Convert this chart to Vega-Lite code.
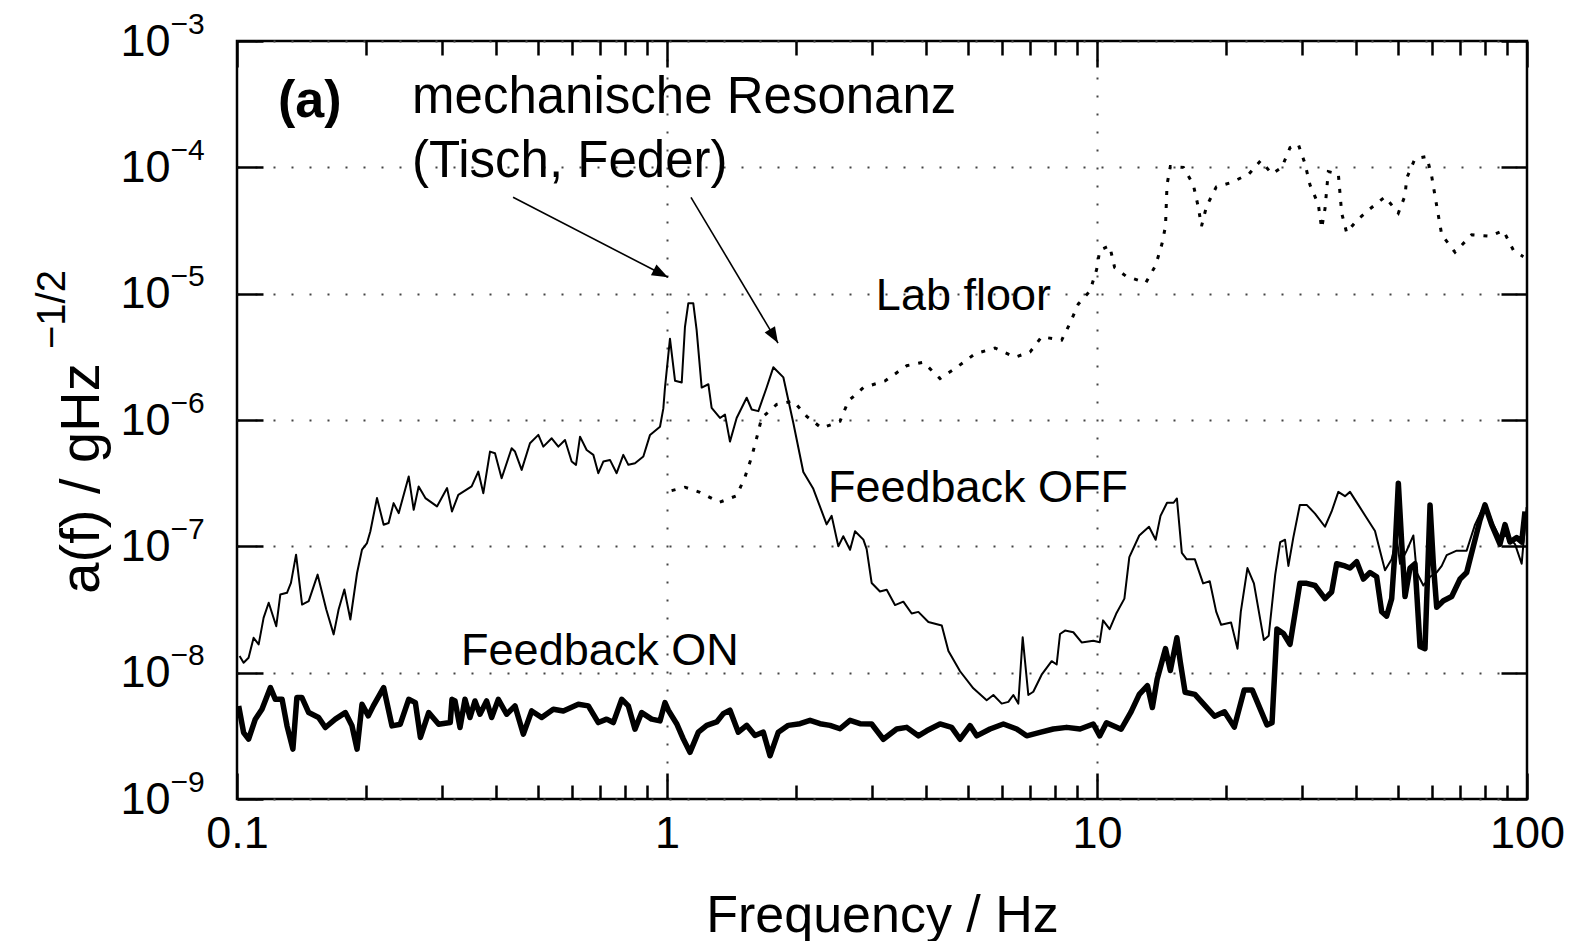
{
  "$schema": "https://vega.github.io/schema/vega-lite/v6.json",
  "width": 1290,
  "height": 758,
  "autosize": {"type": "none"},
  "padding": {"left": 237, "top": 41, "right": 56, "bottom": 142},
  "background": "white",
  "config": {
    "view": {"stroke": "#000", "strokeWidth": 2.5},
    "font": "Liberation Sans",
    "axis": {"domain": false}
  },
  "datasets": {
    "off": [
      {"f":0.1014,"a":1.355e-8},{"f":0.1036,"a":1.199e-8},{"f":0.1064,"a":1.312e-8},{"f":0.1093,"a":1.888e-8},{"f":0.1123,"a":1.675e-8},{"f":0.1153,"a":2.716e-8},{"f":0.1185,"a":3.573e-8},{"f":0.1234,"a":2.333e-8},{"f":0.1261,"a":4.150e-8},{"f":0.1307,"a":4.285e-8},{"f":0.1335,"a":5.140e-8},{"f":0.1372,"a":8.590e-8},{"f":0.1417,"a":3.459e-8},{"f":0.1468,"a":3.681e-8},{"f":0.1540,"a":5.970e-8},{"f":0.1613,"a":3.162e-8},{"f":0.1678,"a":2.009e-8},{"f":0.1723,"a":3.162e-8},{"f":0.1777,"a":4.550e-8},{"f":0.1835,"a":2.636e-8},{"f":0.1902,"a":6.152e-8},{"f":0.1953,"a":9.419e-8},{"f":0.2006,"a":1.062e-7},{"f":0.2042,"a":1.312e-7},{"f":0.2116,"a":2.410e-7},{"f":0.2193,"a":1.483e-7},{"f":0.2252,"a":1.528e-7},{"f":0.2313,"a":2.198e-7},{"f":0.2377,"a":1.832e-7},{"f":0.2508,"a":3.573e-7},{"f":0.2576,"a":1.945e-7},{"f":0.2645,"a":2.979e-7},{"f":0.2742,"a":2.410e-7},{"f":0.2918,"a":2.070e-7},{"f":0.3080,"a":2.891e-7},{"f":0.3162,"a":1.888e-7},{"f":0.3271,"a":2.559e-7},{"f":0.3513,"a":2.979e-7},{"f":0.3640,"a":3.908e-7},{"f":0.3740,"a":2.636e-7},{"f":0.3876,"a":5.623e-7},{"f":0.3981,"a":5.458e-7},{"f":0.4125,"a":3.459e-7},{"f":0.4352,"a":5.970e-7},{"f":0.4431,"a":5.623e-7},{"f":0.4592,"a":4.027e-7},{"f":0.4801,"a":6.546e-7},{"f":0.5021,"a":7.621e-7},{"f":0.5157,"a":6.152e-7},{"f":0.5393,"a":7.161e-7},{"f":0.5589,"a":6.152e-7},{"f":0.5792,"a":6.950e-7},{"f":0.6002,"a":4.688e-7},{"f":0.6143,"a":4.416e-7},{"f":0.6277,"a":7.379e-7},{"f":0.6504,"a":5.794e-7},{"f":0.6741,"a":5.297e-7},{"f":0.6923,"a":3.793e-7},{"f":0.7110,"a":4.688e-7},{"f":0.7368,"a":4.831e-7},{"f":0.7636,"a":3.793e-7},{"f":0.7914,"a":5.297e-7},{"f":0.8131,"a":4.416e-7},{"f":0.8425,"a":4.550e-7},{"f":0.8810,"a":5.140e-7},{"f":0.9131,"a":7.621e-7},{"f":0.9632,"a":8.851e-7},{"f":0.9806,"a":1.236e-6},{"f":0.9892,"a":1.807e-6},{"f":1.016,"a":4.406e-6},{"f":1.044,"a":2.042e-6},{"f":1.082,"a":1.982e-6},{"f":1.101,"a":5.470e-6},{"f":1.121,"a":8.414e-6},{"f":1.151,"a":8.414e-6},{"f":1.172,"a":5.140e-6},{"f":1.204,"a":1.807e-6},{"f":1.248,"a":1.919e-6},{"f":1.270,"a":1.247e-6},{"f":1.328,"a":1.038e-6},{"f":1.364,"a":1.104e-6},{"f":1.401,"a":6.745e-7},{"f":1.452,"a":1.038e-6},{"f":1.532,"a":1.500e-6},{"f":1.574,"a":1.211e-6},{"f":1.631,"a":1.175e-6},{"f":1.705,"a":1.807e-6},{"f":1.767,"a":2.612e-6},{"f":1.865,"a":2.173e-6},{"f":1.967,"a":9.462e-7},{"f":2.075,"a":3.873e-7},{"f":2.189,"a":2.851e-7},{"f":2.351,"a":1.493e-7},{"f":2.415,"a":1.742e-7},{"f":2.503,"a":1.0e-7},{"f":2.570,"a":1.202e-7},{"f":2.665,"a":9.397e-8},{"f":2.737,"a":1.318e-7},{"f":2.862,"a":1.130e-7},{"f":2.913,"a":9.506e-8},{"f":2.992,"a":5.129e-8},{"f":3.128,"a":4.385e-8},{"f":3.243,"a":4.529e-8},{"f":3.390,"a":3.428e-8},{"f":3.545,"a":3.648e-8},{"f":3.707,"a":2.938e-8},{"f":3.842,"a":3.027e-8},{"f":4.054,"a":2.518e-8},{"f":4.355,"a":2.366e-8},{"f":4.513,"a":1.486e-8},{"f":4.803,"a":1.026e-8},{"f":5.157,"a":7.516e-9},{"f":5.539,"a":6.053e-9},{"f":5.741,"a":6.653e-9},{"f":6.003,"a":5.689e-9},{"f":6.221,"a":5.875e-9},{"f":6.389,"a":6.653e-9},{"f":6.561,"a":5.689e-9},{"f":6.717,"a":1.905e-8},{"f":6.801,"a":1.233e-8},{"f":6.923,"a":6.653e-9},{"f":7.110,"a":7.063e-9},{"f":7.435,"a":9.638e-9},{"f":7.845,"a":1.233e-8},{"f":8.058,"a":1.161e-8},{"f":8.204,"a":2.023e-8},{"f":8.426,"a":2.153e-8},{"f":8.810,"a":2.089e-8},{"f":9.211,"a":1.734e-8},{"f":9.804,"a":1.791e-8},{"f":10.15,"a":1.742e-8},{"f":10.33,"a":2.594e-8},{"f":10.70,"a":2.213e-8},{"f":11.08,"a":2.924e-8},{"f":11.58,"a":3.855e-8},{"f":11.89,"a":8.204e-8},{"f":12.54,"a":1.219e-7},{"f":13.21,"a":1.429e-7},{"f":13.69,"a":1.127e-7},{"f":14.05,"a":1.742e-7},{"f":14.55,"a":2.213e-7},{"f":15.07,"a":2.213e-7},{"f":15.34,"a":2.393e-7},{"f":15.75,"a":8.872e-8},{"f":16.17,"a":7.889e-8},{"f":16.89,"a":7.889e-8},{"f":17.65,"a":5.093e-8},{"f":18.29,"a":5.297e-8},{"f":18.93,"a":3.041e-8},{"f":19.44,"a":2.393e-8},{"f":20.50,"a":2.495e-8},{"f":21.22,"a":1.549e-8},{"f":21.60,"a":3.041e-8},{"f":22.38,"a":6.730e-8},{"f":23.17,"a":5.093e-8},{"f":24.43,"a":1.816e-8},{"f":25.08,"a":1.963e-8},{"f":25.97,"a":5.970e-8},{"f":26.67,"a":1.081e-7},{"f":27.37,"a":1.127e-7},{"f":27.87,"a":6.998e-8},{"f":28.61,"a":1.172e-7},{"f":29.63,"a":2.128e-7},{"f":30.74,"a":2.128e-7},{"f":32.14,"a":1.816e-7},{"f":33.90,"a":1.429e-7},{"f":35.13,"a":1.888e-7},{"f":36.41,"a":2.698e-7},{"f":37.73,"a":2.495e-7},{"f":38.76,"a":2.698e-7},{"f":40.53,"a":2.128e-7},{"f":42.38,"a":1.675e-7},{"f":44.31,"a":1.321e-7},{"f":45.51,"a":9.247e-8},{"f":46.75,"a":6.457e-8},{"f":48.45,"a":7.889e-8},{"f":49.77,"a":1.172e-7},{"f":50.67,"a":7.278e-8},{"f":52.51,"a":9.247e-8},{"f":54.42,"a":1.219e-7},{"f":55.40,"a":6.209e-8},{"f":57.41,"a":4.898e-8},{"f":59.50,"a":5.741e-8},{"f":61.66,"a":6.209e-8},{"f":63.34,"a":6.998e-8},{"f":65.05,"a":8.531e-8},{"f":68.62,"a":9.247e-8},{"f":72.39,"a":9.247e-8},{"f":75.70,"a":1.486e-7},{"f":79.85,"a":2.178e-7},{"f":83.50,"a":1.486e-7},{"f":86.53,"a":1.172e-7},{"f":89.70,"a":1.219e-7},{"f":93.78,"a":1.040e-7},{"f":97.19,"a":7.278e-8},{"f":99.8,"a":2.042e-7}
    ],
    "on": [
      {"f":0.1009,"a":5.458e-9},{"f":0.1036,"a":3.357e-9},{"f":0.1064,"a":2.979e-9},{"f":0.1103,"a":4.285e-9},{"f":0.1143,"a":5.140e-9},{"f":0.1196,"a":7.621e-9},{"f":0.1228,"a":6.152e-9},{"f":0.1273,"a":6.152e-9},{"f":0.1307,"a":3.793e-9},{"f":0.1349,"a":2.483e-9},{"f":0.1378,"a":6.353e-9},{"f":0.1416,"a":6.353e-9},{"f":0.1468,"a":4.831e-9},{"f":0.1548,"a":4.416e-9},{"f":0.1605,"a":3.681e-9},{"f":0.1693,"a":4.285e-9},{"f":0.1786,"a":4.831e-9},{"f":0.1851,"a":3.793e-9},{"f":0.1902,"a":2.483e-9},{"f":0.1953,"a":5.623e-9},{"f":0.2020,"a":4.550e-9},{"f":0.2075,"a":5.458e-9},{"f":0.2193,"a":7.621e-9},{"f":0.2293,"a":3.793e-9},{"f":0.2397,"a":3.908e-9},{"f":0.2508,"a":6.152e-9},{"f":0.2599,"a":5.794e-9},{"f":0.2670,"a":3.069e-9},{"f":0.2791,"a":4.831e-9},{"f":0.2944,"a":3.908e-9},{"f":0.3133,"a":4.027e-9},{"f":0.3162,"a":6.152e-9},{"f":0.3214,"a":5.970e-9},{"f":0.3301,"a":3.681e-9},{"f":0.3390,"a":6.152e-9},{"f":0.3482,"a":4.416e-9},{"f":0.3576,"a":5.970e-9},{"f":0.3673,"a":4.688e-9},{"f":0.3806,"a":5.970e-9},{"f":0.3910,"a":4.416e-9},{"f":0.4052,"a":6.152e-9},{"f":0.4237,"a":4.688e-9},{"f":0.4431,"a":5.458e-9},{"f":0.4634,"a":3.258e-9},{"f":0.4845,"a":4.977e-9},{"f":0.5111,"a":4.416e-9},{"f":0.5441,"a":5.140e-9},{"f":0.5740,"a":4.977e-9},{"f":0.6219,"a":5.623e-9},{"f":0.6562,"a":5.458e-9},{"f":0.6923,"a":4.027e-9},{"f":0.7239,"a":4.285e-9},{"f":0.7502,"a":4.027e-9},{"f":0.7845,"a":6.152e-9},{"f":0.8131,"a":5.458e-9},{"f":0.8425,"a":3.573e-9},{"f":0.8731,"a":4.831e-9},{"f":0.9210,"a":4.285e-9},{"f":0.9632,"a":4.150e-9},{"f":0.9892,"a":5.794e-9},{"f":1.007,"a":5.047e-9},{"f":1.053,"a":3.945e-9},{"f":1.091,"a":2.992e-9},{"f":1.131,"a":2.339e-9},{"f":1.183,"a":3.381e-9},{"f":1.237,"a":3.828e-9},{"f":1.305,"a":4.074e-9},{"f":1.352,"a":4.742e-9},{"f":1.401,"a":5.047e-9},{"f":1.465,"a":3.381e-9},{"f":1.532,"a":3.828e-9},{"f":1.602,"a":3.184e-9},{"f":1.675,"a":3.381e-9},{"f":1.736,"a":2.198e-9},{"f":1.815,"a":3.381e-9},{"f":1.915,"a":3.828e-9},{"f":2.039,"a":3.945e-9},{"f":2.151,"a":4.198e-9},{"f":2.269,"a":3.945e-9},{"f":2.394,"a":3.828e-9},{"f":2.525,"a":3.597e-9},{"f":2.665,"a":4.198e-9},{"f":2.811,"a":3.945e-9},{"f":2.992,"a":3.926e-9},{"f":3.185,"a":2.972e-9},{"f":3.421,"a":3.581e-9},{"f":3.610,"a":3.690e-9},{"f":3.842,"a":3.162e-9},{"f":4.017,"a":3.467e-9},{"f":4.314,"a":3.926e-9},{"f":4.592,"a":3.690e-9},{"f":4.803,"a":2.972e-9},{"f":5.067,"a":3.811e-9},{"f":5.251,"a":3.162e-9},{"f":5.640,"a":3.581e-9},{"f":6.057,"a":3.926e-9},{"f":6.505,"a":3.581e-9},{"f":6.862,"a":3.162e-9},{"f":7.368,"a":3.365e-9},{"f":7.914,"a":3.581e-9},{"f":8.502,"a":3.690e-9},{"f":9.131,"a":3.581e-9},{"f":9.804,"a":3.926e-9},{"f":10.15,"a":3.162e-9},{"f":10.52,"a":4.009e-9},{"f":11.38,"a":3.565e-9},{"f":12.00,"a":4.898e-9},{"f":12.54,"a":6.730e-9},{"f":13.10,"a":7.889e-9},{"f":13.45,"a":5.297e-9},{"f":13.80,"a":8.872e-9},{"f":14.43,"a":1.549e-8},{"f":14.81,"a":1.040e-8},{"f":15.34,"a":1.888e-8},{"f":15.62,"a":1.219e-8},{"f":16.03,"a":6.998e-9},{"f":16.89,"a":6.730e-9},{"f":17.81,"a":5.508e-9},{"f":18.77,"a":4.519e-9},{"f":19.79,"a":4.898e-9},{"f":20.86,"a":3.707e-9},{"f":21.99,"a":7.278e-9},{"f":22.97,"a":7.278e-9},{"f":24.00,"a":5.093e-9},{"f":24.85,"a":3.855e-9},{"f":25.53,"a":4.009e-9},{"f":26.21,"a":2.213e-8},{"f":27.14,"a":2.042e-8},{"f":28.11,"a":1.675e-8},{"f":29.63,"a":5.093e-8},{"f":30.74,"a":5.093e-8},{"f":32.14,"a":4.898e-8},{"f":33.90,"a":3.855e-8},{"f":35.13,"a":4.345e-8},{"f":36.09,"a":7.278e-8},{"f":37.73,"a":6.998e-8},{"f":38.76,"a":6.730e-8},{"f":40.17,"a":7.568e-8},{"f":41.64,"a":5.508e-8},{"f":43.14,"a":6.209e-8},{"f":44.71,"a":5.741e-8},{"f":45.92,"a":3.041e-8},{"f":47.17,"a":2.805e-8},{"f":48.45,"a":3.855e-8},{"f":49.32,"a":9.247e-8},{"f":50.21,"a":3.162e-7},{"f":51.11,"a":1.081e-7},{"f":52.04,"a":4.009e-8},{"f":53.45,"a":6.730e-8},{"f":54.89,"a":7.278e-8},{"f":56.39,"a":1.611e-8},{"f":57.91,"a":1.549e-8},{"f":59.50,"a":2.128e-7},{"f":60.56,"a":7.278e-8},{"f":61.66,"a":3.289e-8},{"f":63.90,"a":3.707e-8},{"f":66.82,"a":4.009e-8},{"f":69.88,"a":5.508e-8},{"f":72.39,"a":6.209e-8},{"f":75.02,"a":1.0e-7},{"f":77.74,"a":1.611e-7},{"f":79.85,"a":2.128e-7},{"f":82.76,"a":1.486e-7},{"f":86.53,"a":1.040e-7},{"f":88.88,"a":1.486e-7},{"f":91.30,"a":1.081e-7},{"f":94.62,"a":1.172e-7},{"f":97.19,"a":1.081e-7},{"f":98.92,"a":1.888e-7}
    ],
    "lab": [
      {"f":1.025,"a":2.761e-7},{"f":1.101,"a":2.938e-7},{"f":1.193,"a":2.679e-7},{"f":1.324,"a":2.228e-7},{"f":1.452,"a":2.518e-7},{"f":1.518,"a":3.532e-7},{"f":1.574,"a":5.117e-7},{"f":1.616,"a":7.178e-7},{"f":1.660,"a":1.038e-6},{"f":1.799,"a":1.327e-6},{"f":1.967,"a":1.413e-6},{"f":2.113,"a":1.069e-6},{"f":2.289,"a":8.630e-7},{"f":2.525,"a":9.750e-7},{"f":2.641,"a":1.413e-6},{"f":2.862,"a":1.807e-6},{"f":3.214,"a":2.037e-6},{"f":3.610,"a":2.692e-6},{"f":3.947,"a":2.864e-6},{"f":4.314,"a":2.128e-6},{"f":4.718,"a":2.612e-6},{"f":5.204,"a":3.342e-6},{"f":5.791,"a":3.715e-6},{"f":6.446,"a":3.141e-6},{"f":6.986,"a":3.451e-6},{"f":7.435,"a":4.560e-6},{"f":8.277,"a":4.285e-6},{"f":8.654,"a":5.834e-6},{"f":9.049,"a":8.299e-6},{"f":9.632,"a":1.052e-5},{"f":9.979,"a":1.549e-5},{"f":10.15,"a":2.213e-5},{"f":10.70,"a":2.393e-5},{"f":10.99,"a":1.611e-5},{"f":11.69,"a":1.374e-5},{"f":12.98,"a":1.219e-5},{"f":13.69,"a":1.675e-5},{"f":14.17,"a":2.495e-5},{"f":14.43,"a":3.420e-5},{"f":14.55,"a":7.278e-5},{"f":14.81,"a":1.016e-4},{"f":15.88,"a":1.0e-4},{"f":16.75,"a":7.278e-5},{"f":17.19,"a":4.898e-5},{"f":17.50,"a":3.420e-5},{"f":17.97,"a":4.898e-5},{"f":18.94,"a":6.998e-5},{"f":20.50,"a":7.568e-5},{"f":22.57,"a":8.872e-5},{"f":24.00,"a":1.127e-4},{"f":25.53,"a":8.872e-5},{"f":26.91,"a":1.0e-4},{"f":28.11,"a":1.429e-4},{"f":29.38,"a":1.524e-4},{"f":30.43,"a":1.081e-4},{"f":31.28,"a":7.278e-5},{"f":32.71,"a":5.093e-5},{"f":33.30,"a":3.289e-5},{"f":33.90,"a":4.699e-5},{"f":34.51,"a":9.247e-5},{"f":36.41,"a":8.872e-5},{"f":37.07,"a":4.345e-5},{"f":38.07,"a":3.041e-5},{"f":40.17,"a":3.793e-5},{"f":43.14,"a":4.699e-5},{"f":46.75,"a":5.834e-5},{"f":50.21,"a":4.345e-5},{"f":52.04,"a":5.970e-5},{"f":52.51,"a":8.204e-5},{"f":54.89,"a":1.172e-4},{"f":58.44,"a":1.219e-4},{"f":60.02,"a":8.531e-5},{"f":61.09,"a":5.970e-5},{"f":62.20,"a":4.178e-5},{"f":63.34,"a":2.924e-5},{"f":68.02,"a":2.128e-5},{"f":74.34,"a":2.924e-5},{"f":82.04,"a":2.851e-5},{"f":88.10,"a":3.162e-5},{"f":92.93,"a":2.213e-5},{"f":98.06,"a":1.963e-5}
    ],
    "labels": [
      {"f":3.06,"a":9.55e-6,"text":"Lab floor"},
      {"f":2.368,"a":2.897e-7,"text":"Feedback OFF"},
      {"f":0.332,"a":1.493e-8,"text":"Feedback ON"}
    ],
    "note": [
      {"f":0.2553,"a":3.51e-4,"text":"mechanische Resonanz"},
      {"f":0.2553,"a":1.105e-4,"text":"(Tisch, Feder)"}
    ],
    "panel": [
      {"f":0.1245,"a":3.33e-4,"text":"(a)"}
    ],
    "arrows": [
      {"id":1,"f":0.4385,"a":5.79e-5,"f2":1.005,"a2":1.349e-5},
      {"id":2,"f":1.137,"a":5.79e-5,"f2":1.812,"a2":4.064e-6}
    ]
  },
  "layer": [
    {
      "data": {"name": "lab"},
      "mark": {"type": "line", "color": "#000", "strokeWidth": 3, "strokeDash": [4, 9]},
      "encoding": {
        "x": {"field": "f", "type": "quantitative", "scale": {"type": "log", "domain": [0.1, 100], "nice": false},
          "axis": {
            "orient": "bottom",
            "values": [0.1,0.2,0.3,0.4,0.5,0.6,0.7,0.8,0.9,1,2,3,4,5,6,7,8,9,10,20,30,40,50,60,70,80,90,100],
            "labelExpr": "datum.value==0.1?'0.1':datum.value==1?'1':datum.value==10?'10':datum.value==100?'100':''",
            "labelOverlap": false, "labelFlush": false, "labelBound": false,
            "labelFont": "Liberation Sans", "labelFontSize": 45, "labelColor": "#000", "labelPadding": 38,
            "tickColor": "#000", "tickWidth": 2.5,
            "tickSize": {"condition": {"test": "datum.value==0.1||datum.value==1||datum.value==10||datum.value==100", "value": -26}, "value": -14},
            "grid": true, "gridColor": "#444", "gridWidth": 2, "gridDash": [2, 16],
            "gridOpacity": {"condition": {"test": "datum.value==1||datum.value==10", "value": 1}, "value": 0},
            "title": "Frequency / Hz", "titleFont": "Liberation Sans", "titleFontSize": 52, "titleFontWeight": "normal", "titleColor": "#000", "titlePadding": 22
          }},
        "y": {"field": "a", "type": "quantitative", "scale": {"type": "log", "domain": [1e-9, 1e-3], "nice": false},
          "axis": {
            "orient": "left",
            "values": [1e-9,1e-8,1e-7,1e-6,1e-5,1e-4,1e-3],
            "labelExpr": "'10'",
            "labelOverlap": false, "labelFlush": false, "labelBound": false,
            "labelFont": "Liberation Sans", "labelFontSize": 45, "labelColor": "#000", "labelPadding": 93, "labelBaseline": "middle",
            "tickColor": "#000", "tickWidth": 2.5, "tickSize": -26,
            "grid": true, "gridColor": "#444", "gridWidth": 2, "gridDash": [2, 16],
            "title": "a(f) / gHz", "titleFont": "Liberation Sans", "titleFontSize": 56, "titleFontWeight": "normal", "titleColor": "#000",
            "titleAngle": -90, "titleAlign": "center", "titleBaseline": "alphabetic", "titleX": -139, "titleY": 437
          }}
      }
    },
    {
      "data": {"name": "off"},
      "mark": {"type": "line", "color": "#000", "strokeWidth": 2, "strokeJoin": "round"},
      "encoding": {
        "x": {"field": "f", "type": "quantitative", "scale": {"type": "log", "domain": [0.1, 100], "nice": false},
          "axis": {
            "orient": "top",
            "values": [0.1,0.2,0.3,0.4,0.5,0.6,0.7,0.8,0.9,1,2,3,4,5,6,7,8,9,10,20,30,40,50,60,70,80,90,100],
            "labels": false, "grid": false, "title": null,
            "tickColor": "#000", "tickWidth": 2.5,
            "tickSize": {"condition": {"test": "datum.value==0.1||datum.value==1||datum.value==10||datum.value==100", "value": -26}, "value": -14}
          }},
        "y": {"field": "a", "type": "quantitative", "scale": {"type": "log", "domain": [1e-9, 1e-3], "nice": false},
          "axis": {
            "orient": "right",
            "values": [1e-9,1e-8,1e-7,1e-6,1e-5,1e-4,1e-3],
            "labels": false, "grid": false, "title": null,
            "tickColor": "#000", "tickWidth": 2.5, "tickSize": -26
          }}
      }
    },
    {
      "data": {"name": "on"},
      "mark": {"type": "line", "color": "#000", "strokeWidth": 5.5, "strokeJoin": "round"},
      "encoding": {
        "x": {"field": "f", "type": "quantitative", "scale": {"type": "log", "domain": [0.1, 100], "nice": false}, "axis": null},
        "y": {"field": "a", "type": "quantitative", "scale": {"type": "log", "domain": [1e-9, 1e-3], "nice": false},
          "axis": {
            "orient": "left",
            "values": [1e-9,1e-8,1e-7,1e-6,1e-5,1e-4,1e-3],
            "labelExpr": "'−' + round(-log(datum.value)/LN10)",
            "labelOverlap": false, "labelFlush": false, "labelBound": false,
            "labelFont": "Liberation Sans", "labelFontSize": 30, "labelColor": "#000", "labelPadding": 93,
            "labelAlign": "left", "labelBaseline": "middle", "labelOffset": -17,
            "tickSize": -26, "tickOpacity": 0, "grid": false,
            "title": "−1/2", "titleFont": "Liberation Sans", "titleFontSize": 40, "titleFontWeight": "normal", "titleColor": "#000",
            "titleAngle": -90, "titleAlign": "center", "titleBaseline": "alphabetic", "titleX": -173, "titleY": 268
          }}
      }
    },
    {
      "data": {"name": "labels"},
      "mark": {"type": "text", "align": "left", "baseline": "middle", "font": "Liberation Sans", "fontSize": 45, "color": "#000"},
      "encoding": {
        "x": {"field": "f", "type": "quantitative", "scale": {"type": "log", "domain": [0.1, 100], "nice": false}, "axis": null},
        "y": {"field": "a", "type": "quantitative", "scale": {"type": "log", "domain": [1e-9, 1e-3], "nice": false}, "axis": null},
        "text": {"field": "text"}
      }
    },
    {
      "data": {"name": "note"},
      "mark": {"type": "text", "align": "left", "baseline": "middle", "font": "Liberation Sans", "fontSize": 51, "color": "#000"},
      "encoding": {
        "x": {"field": "f", "type": "quantitative", "scale": {"type": "log", "domain": [0.1, 100], "nice": false}, "axis": null},
        "y": {"field": "a", "type": "quantitative", "scale": {"type": "log", "domain": [1e-9, 1e-3], "nice": false}, "axis": null},
        "text": {"field": "text"}
      }
    },
    {
      "data": {"name": "panel"},
      "mark": {"type": "text", "align": "left", "baseline": "middle", "font": "Liberation Sans", "fontSize": 52, "fontWeight": "bold", "color": "#000"},
      "encoding": {
        "x": {"field": "f", "type": "quantitative", "scale": {"type": "log", "domain": [0.1, 100], "nice": false}, "axis": null},
        "y": {"field": "a", "type": "quantitative", "scale": {"type": "log", "domain": [1e-9, 1e-3], "nice": false}, "axis": null},
        "text": {"field": "text"}
      }
    },
    {
      "data": {"name": "arrows"},
      "mark": {"type": "rule", "color": "#000", "strokeWidth": 1.6},
      "encoding": {
        "x": {"field": "f", "type": "quantitative", "scale": {"type": "log", "domain": [0.1, 100], "nice": false}, "axis": null},
        "y": {"field": "a", "type": "quantitative", "scale": {"type": "log", "domain": [1e-9, 1e-3], "nice": false}, "axis": null},
        "x2": {"field": "f2"},
        "y2": {"field": "a2"}
      }
    },
    {
      "data": {"name": "arrows"},
      "transform": [{"filter": "datum.id == 1"}],
      "mark": {"type": "point", "shape": "M0,0L-2,-0.75L-2,0.75Z", "filled": true, "color": "#000", "opacity": 1, "size": 256, "angle": 27.3, "strokeWidth": 0},
      "encoding": {
        "x": {"field": "f2", "type": "quantitative", "scale": {"type": "log", "domain": [0.1, 100], "nice": false}, "axis": null},
        "y": {"field": "a2", "type": "quantitative", "scale": {"type": "log", "domain": [1e-9, 1e-3], "nice": false}, "axis": null}
      }
    },
    {
      "data": {"name": "arrows"},
      "transform": [{"filter": "datum.id == 2"}],
      "mark": {"type": "point", "shape": "M0,0L-2,-0.75L-2,0.75Z", "filled": true, "color": "#000", "opacity": 1, "size": 256, "angle": 59.2, "strokeWidth": 0},
      "encoding": {
        "x": {"field": "f2", "type": "quantitative", "scale": {"type": "log", "domain": [0.1, 100], "nice": false}, "axis": null},
        "y": {"field": "a2", "type": "quantitative", "scale": {"type": "log", "domain": [1e-9, 1e-3], "nice": false}, "axis": null}
      }
    }
  ],
  "resolve": {"axis": {"x": "independent", "y": "independent"}}
}
